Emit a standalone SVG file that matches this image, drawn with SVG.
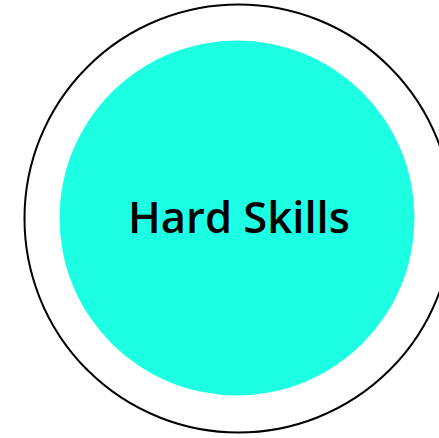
<svg xmlns="http://www.w3.org/2000/svg" width="439" height="438" viewBox="0 0 439 438">
<style>
.label{font-family:"Open Sans","Noto Sans",sans-serif;font-weight:600;font-size:43.6px;fill:#000;text-anchor:middle}
</style>
<rect width="439" height="438" fill="#fff"/>
<g id="outer">
<circle cx="238.5" cy="218.5" r="214" fill="none" stroke="#000" stroke-width="2"/>
</g>
<g id="hard-skills">
<circle cx="237" cy="218" r="177.5" fill="#1DFFE3"/>
<text class="label" x="239" y="233">Hard Skills</text>
</g>
<g id="connectors"/>
</svg>
